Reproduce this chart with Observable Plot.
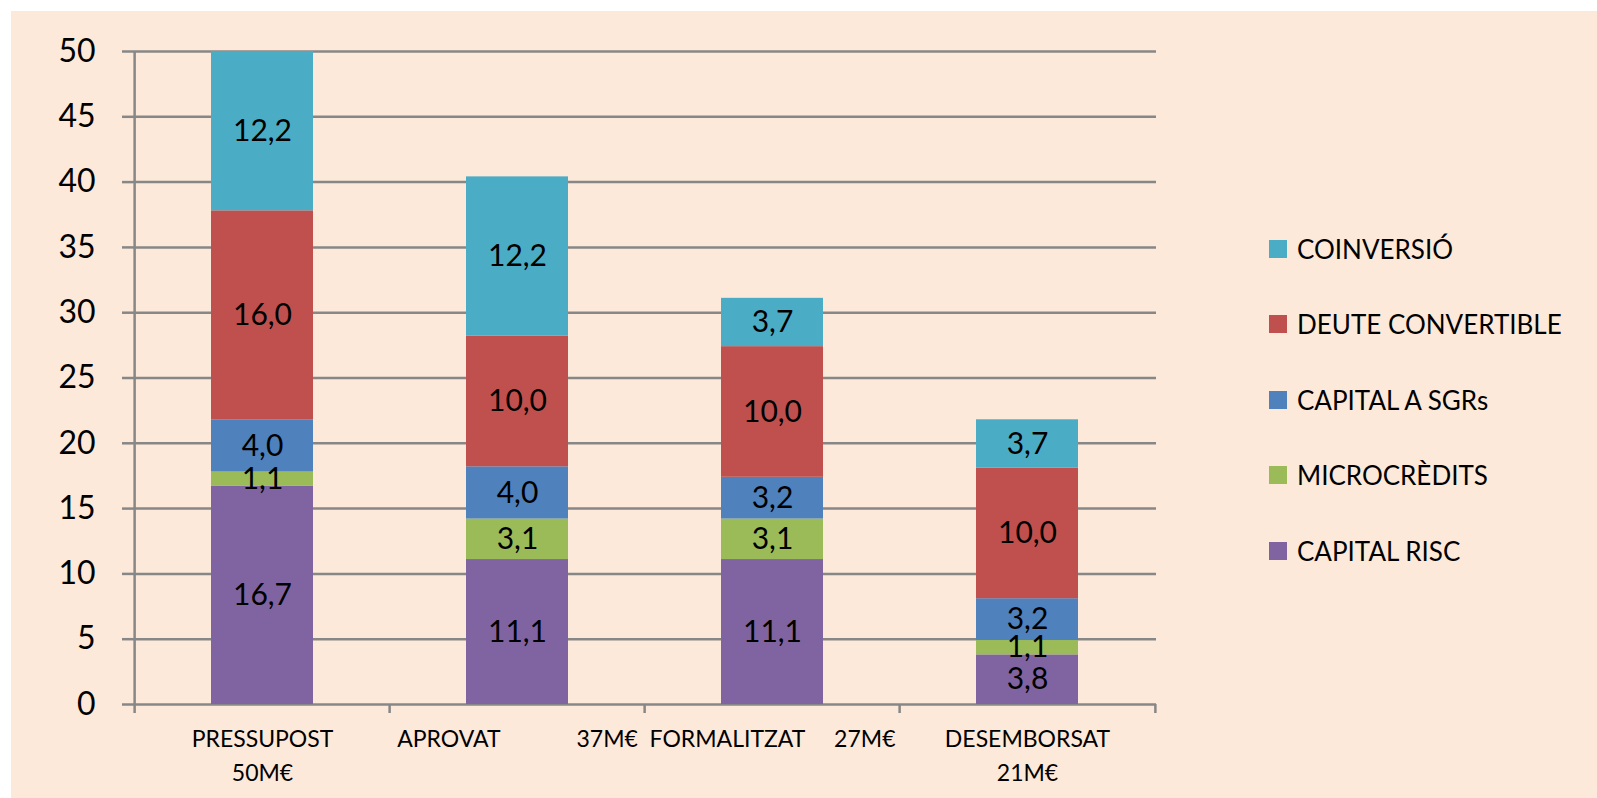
<!DOCTYPE html>
<html>
<head>
<meta charset="utf-8">
<script src="https://cdn.jsdelivr.net/npm/d3@7"></script>
<script src="https://cdn.jsdelivr.net/npm/@observablehq/plot@0.6"></script>
<style>
  html, body { margin: 0; padding: 0; background: #ffffff; }
  #wrap { position: absolute; left: 11px; top: 11px; width: 1586px; height: 787px; background: #FDE9D9; overflow: hidden; }
  #legend { position: absolute; left: 1258px; top: 200px; font-family: Lato, "Open Sans", sans-serif; font-size: 26px; color: #000; }
  .row { display: flex; align-items: center; height: 75.5px; }
  .sw { width: 18px; height: 18px; margin-right: 10px; }
</style>
</head>
<body>
<div id="wrap"><div id="legend"></div></div>
<script>
const NB = "\u00A0";
const stages = ["PRESSUPOST", "APROVAT", "FORMALITZAT", "DESEMBORSAT"];
const stageLabels = [
  "PRESSUPOST\n50M€",
  "APROVAT" + NB.repeat(13) + "37M€",
  "FORMALITZAT" + NB.repeat(5) + "27M€",
  "DESEMBORSAT\n21M€"
];
const series = ["CAPITAL RISC", "MICROCRÈDITS", "CAPITAL A SGRs", "DEUTE CONVERTIBLE", "COINVERSIÓ"];
const colors = ["#8064A2", "#9BBB59", "#4F81BD", "#C0504D", "#4BACC6"];
const capitalRisc = [16.7, 11.1, 11.1, 3.8];
const microcredits = [1.1, 3.1, 3.1, 1.1];
const capitalSGRs = [4.0, 4.0, 3.2, 3.2];
const deuteConvertible = [16.0, 10.0, 10.0, 10.0];
const coinversio = [12.2, 12.2, 3.7, 3.7];
const yTicks = [0, 5, 10, 15, 20, 25, 30, 35, 40, 45, 50];

const seriesValues = [capitalRisc, microcredits, capitalSGRs, deuteConvertible, coinversio];
const data = [];
stages.forEach((s, i) => {
  series.forEach((name, j) => {
    data.push({stage: s, series: name, value: seriesValues[j][i]});
  });
});

const W = 1586, H = 787, ML = 122, MR = 441, MT = 40, MB = 94;
const step = (W - ML - MR) / stages.length;
const grid = "#878787";
const fmt = v => v.toFixed(1).replace(".", ",");

const chart = Plot.plot({
  width: W, height: H,
  marginLeft: ML, marginRight: MR, marginTop: MT, marginBottom: MB,
  style: {background: "transparent", fontFamily: "Lato, 'Open Sans', sans-serif", overflow: "visible"},
  x: {domain: stages, paddingInner: 0.6, paddingOuter: 0.3, axis: null},
  y: {domain: [0, 50], axis: null},
  color: {domain: series, range: colors},
  marks: [
    Plot.ruleY(yTicks, {stroke: grid, strokeWidth: 2.5}),
    Plot.axisY({ticks: yTicks, label: null, tickSize: 11, tickPadding: 27, fontSize: 32, stroke: grid, strokeWidth: 2.5, fill: "#000", tickFormat: d => String(d)}),
    Plot.ruleX([stages[0]], {x: d => d, y1: 0, y2: 50, dx: -step / 2, stroke: grid, strokeWidth: 2.5}),
    Plot.ruleX(stages, {x: d => d, y1: 0, y2: 0, insetBottom: -9, dx: -step / 2, stroke: grid, strokeWidth: 2.5}),
    Plot.ruleX([stages[stages.length - 1]], {x: d => d, y1: 0, y2: 0, insetBottom: -9, dx: step / 2, stroke: grid, strokeWidth: 2.5}),
    Plot.barY(data, {x: "stage", y: "value", fill: "series"}),
    Plot.text(data, Plot.stackY({x: "stage", y: "value", z: "series", text: d => fmt(d.value), fontSize: 30, fill: "#000"})),
    Plot.text(stages, {x: d => d, y: 0, text: (d, i) => stageLabels[i], lineAnchor: "top", dy: 18, fontSize: 23, lineHeight: 1.48, fill: "#000"})
  ]
});
document.getElementById("wrap").prepend(chart);

const legend = document.getElementById("legend");
for (let j = series.length - 1; j >= 0; j--) {
  const row = document.createElement("div");
  row.className = "row";
  const sw = document.createElement("div");
  sw.className = "sw";
  sw.style.background = colors[j];
  const t = document.createElement("span");
  t.textContent = series[j];
  row.appendChild(sw);
  row.appendChild(t);
  legend.appendChild(row);
}
</script>
</body>
</html>
